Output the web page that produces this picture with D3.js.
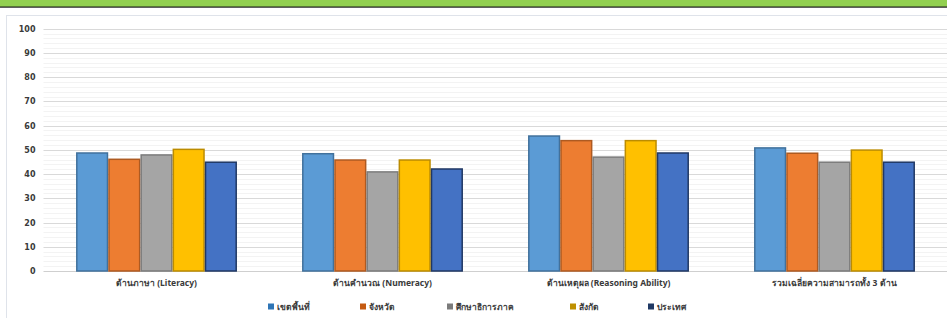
<!DOCTYPE html>
<html>
<head>
<meta charset="utf-8">
<script src="https://cdn.jsdelivr.net/npm/d3@7"></script>
<style>
  body { margin: 0; background: #fff; }
  text { font-family: "Noto Sans", "DejaVu Sans", sans-serif; }
</style>
</head>
<body>
<div id="chart"></div>
<script>
// data
const categories = ["ด้านภาษา (Literacy)", "ด้านคำนวณ (Numeracy)", "ด้านเหตุผล (Reasoning Ability)", "รวมเฉลี่ยความสามารถทั้ง 3 ด้าน"];
const seriesNames = ["เขตพื้นที่", "จังหวัด", "ศึกษาธิการภาค", "สังกัด", "ประเทศ"];
const seriesValues = [
  [48.7, 48.4, 55.7, 50.8],
  [46.1, 45.8, 53.8, 48.6],
  [47.9, 40.9, 47.0, 44.9],
  [50.2, 45.8, 53.8, 49.9],
  [44.9, 42.1, 48.7, 44.9]
];
const yTicks = [0, 10, 20, 30, 40, 50, 60, 70, 80, 90, 100];
const fills = ["#5B9BD5", "#ED7D31", "#A5A5A5", "#FFC000", "#4472C4"];
const strokes = ["#41719C", "#AE5A21", "#7B7B7B", "#BC8C00", "#203864"];
const legendColors = ["#2E75B6", "#C55A11", "#7B7B7B", "#BF9000", "#1F3864"];

const W = 947, H = 318;
const plotLeft = 43.5, plotRight = 947.5, plotTop = 28.7, plotBottom = 271;

const svg = d3.select("#chart").append("svg")
  .attr("width", W).attr("height", H);

// green header strip
svg.append("rect").attr("x", 0).attr("y", 0).attr("width", W).attr("height", 7).attr("fill", "#92D050");
svg.append("rect").attr("x", 0).attr("y", 6.5).attr("width", W).attr("height", 1.2).attr("fill", "#1a1a1a");

// chart frame
svg.append("rect").attr("x", 6.5).attr("y", 15.5).attr("width", W).attr("height", H)
  .attr("fill", "#fff").attr("stroke", "#dfe3ea");

const y = d3.scaleLinear().domain([0, 100]).range([plotBottom, plotTop]);
const x0 = d3.scaleBand().domain(categories).range([plotLeft, plotRight])
  .paddingInner(0.288).paddingOuter(0.144);
const x1 = d3.scaleBand().domain(seriesNames).range([0, x0.bandwidth()]);

// minor gridlines
svg.append("g").selectAll("line")
  .data(d3.range(2, 100, 2).filter(v => v % 10 !== 0))
  .enter().append("line")
  .attr("x1", plotLeft).attr("x2", W)
  .attr("y1", d => Math.round(y(d)) + 0.5).attr("y2", d => Math.round(y(d)) + 0.5)
  .attr("stroke", "#f3f3f3");

// major gridlines
svg.append("g").selectAll("line")
  .data(yTicks)
  .enter().append("line")
  .attr("x1", plotLeft).attr("x2", W)
  .attr("y1", d => Math.round(y(d)) + 0.5).attr("y2", d => Math.round(y(d)) + 0.5)
  .attr("stroke", d => d === 0 ? "#cfcfcf" : "#d9d9d9");

// y axis labels
const yAxis = svg.append("g")
  .attr("transform", "translate(" + plotLeft + ",0)")
  .call(d3.axisLeft(y).tickValues(yTicks).tickSize(0).tickPadding(8));
yAxis.select(".domain").remove();
yAxis.selectAll("text")
  .attr("font-size", 8).attr("font-weight", "bold").attr("fill", "#3a3a3a")
  .style("font-family", "'DejaVu Sans', sans-serif");

// bars
const groups = svg.append("g").selectAll("g")
  .data(categories)
  .enter().append("g")
  .attr("transform", d => "translate(" + x0(d) + ",0)");

groups.selectAll("rect")
  .data((c, ci) => seriesNames.map((s, si) => ({ s, si, v: seriesValues[si][ci] })))
  .enter().append("rect")
  .attr("x", d => x1(d.s) + 0.75)
  .attr("y", d => y(d.v))
  .attr("width", x1.bandwidth() - 1.5)
  .attr("height", d => plotBottom - y(d.v))
  .attr("fill", d => fills[d.si])
  .attr("stroke", d => strokes[d.si])
  .attr("stroke-width", 1.5);

// x axis labels
const xAxis = svg.append("g")
  .attr("transform", "translate(0," + plotBottom + ")")
  .call(d3.axisBottom(x0).tickSize(0).tickPadding(9));
xAxis.select(".domain").remove();
xAxis.selectAll("text")
  .attr("font-size", 8.5).attr("font-weight", "bold").attr("fill", "#3a3a3a");

// legend
const legendX = [268, 360, 447, 570, 648];
const legend = svg.append("g").selectAll("g")
  .data(seriesNames)
  .enter().append("g")
  .attr("transform", (d, i) => "translate(" + legendX[i] + ",307)");
legend.append("rect")
  .attr("x", 0).attr("y", -3.5).attr("width", 6).attr("height", 6)
  .attr("fill", (d, i) => legendColors[i]);
legend.append("text")
  .attr("x", 9).attr("y", 0).attr("dy", "0.35em")
  .attr("font-size", 8.5).attr("font-weight", "bold").attr("fill", "#3a3a3a")
  .text(d => d);
</script>
</body>
</html>
